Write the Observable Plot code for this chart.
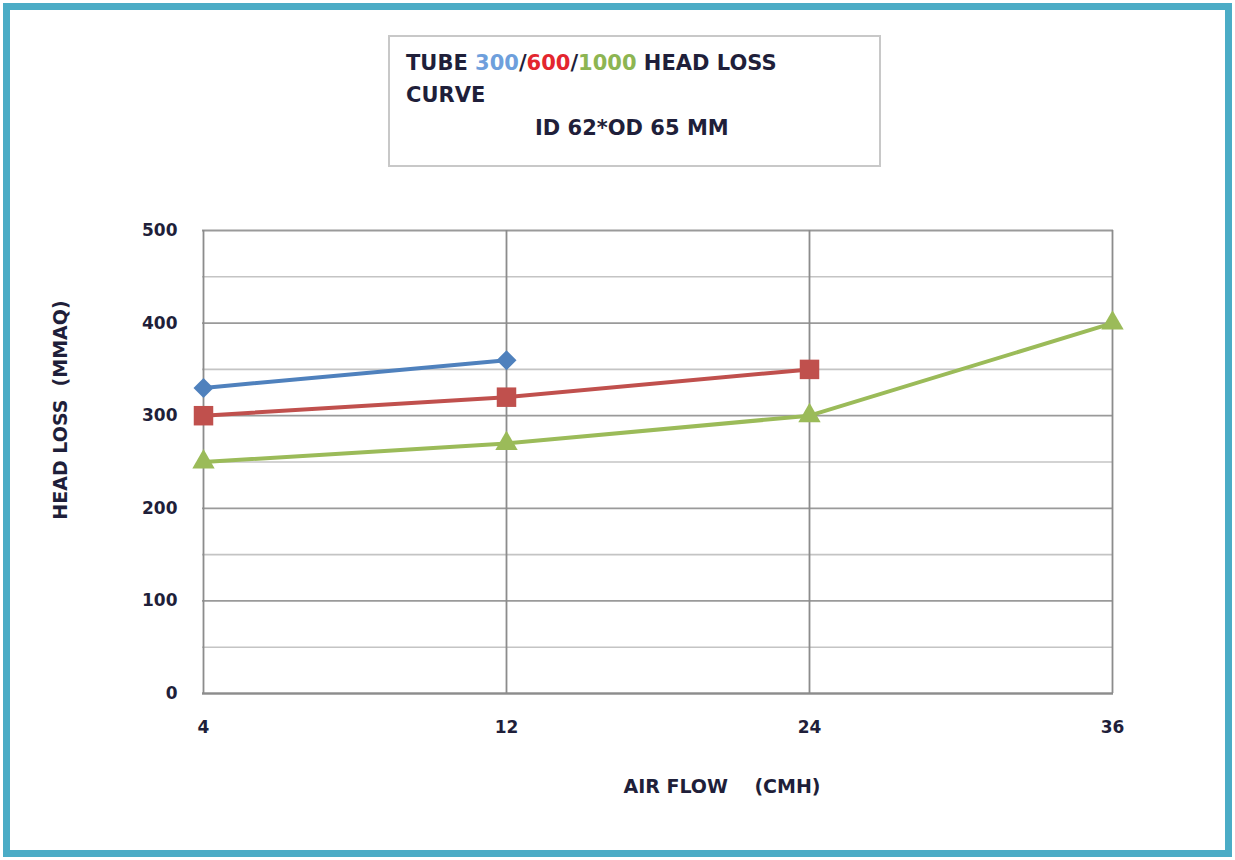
<!DOCTYPE html>
<html>
<head>
<meta charset="utf-8">
<script src="https://cdn.jsdelivr.net/npm/d3@7"></script>
<script src="https://cdn.jsdelivr.net/npm/@observablehq/plot@0.6"></script>
<style>
  html, body { margin: 0; padding: 0; background: #fff; }
  #frame {
    position: relative; width: 1235px; height: 860px; box-sizing: border-box;
    overflow: hidden;
    font-family: "DejaVu Sans", sans-serif; color: #1f1f3a;
  }
  #border {
    position: absolute; left: 3px; top: 3px; width: 1229px; height: 854px;
    box-sizing: border-box; border: 7px solid #4bacc6;
  }
  #titlebox {
    position: absolute; left: 388px; top: 35px; width: 493px; height: 132px;
    box-sizing: border-box; border: 2px solid #c8c8c8; background: #fff;
    font-weight: 700; font-size: 21px; line-height: 25px;
  }
  #titlebox .l1 { position: absolute; left: 16px; top: 14px; white-space: nowrap; }
  #titlebox .l2 { position: absolute; left: 16px; top: 46px; }
  #titlebox .l3 { position: absolute; left: 145px; top: 79px; white-space: nowrap; }
  .axislabel { position: absolute; font-weight: 700; font-size: 19px; white-space: pre; line-height: 22px; }
  #xlabel { left: 522px; width: 400px; top: 775px; text-align: center; }
  #ylabel { left: -140px; width: 400px; top: 399px; text-align: center; transform: rotate(-90deg); }
  #chart { position: absolute; left: 0; top: 0; }
</style>
</head>
<body>
<div id="frame">
  <div id="chart"></div>
  <div id="border"></div>
  <div id="titlebox">
    <div class="l1">TUBE <span style="color:#6e9fdc">300</span>/<span style="color:#e3262e">600</span>/<span style="color:#8db552">1000</span> HEAD LOSS</div>
    <div class="l2">CURVE</div>
    <div class="l3">ID 62*OD 65 MM</div>
  </div>
  <div class="axislabel" id="xlabel">AIR FLOW    (CMH)</div>
  <div class="axislabel" id="ylabel">HEAD LOSS  (MMAQ)</div>
</div>
<script>
const airFlow = ["4", "12", "24", "36"];
const tube300 = [330, 360];
const tube600 = [300, 320, 350];
const tube1000 = [250, 270, 300, 400];
const yTicks = [0, 100, 200, 300, 400, 500];
const yGrid = [50, 150, 250, 350, 450];

const series = [
  {name: "300", values: tube300, color: "#4f81bd", symbol: "diamond2", r: 9},
  {name: "600", values: tube600, color: "#c0504d", symbol: "square", r: 11},
  {name: "1000", values: tube1000, color: "#9bbb59", symbol: "triangle", r: 8.3}
];
const rows = series.flatMap(s => s.values.map((v, i) => ({series: s.name, flow: airFlow[i], head: v})));

const marks = [
  Plot.ruleY(yGrid, {stroke: "#c4c4c4", strokeWidth: 1.6}),
  Plot.ruleY(yTicks, {stroke: "#9a9a9a", strokeWidth: 1.8}),
  Plot.ruleX(airFlow, {x: d => d, stroke: "#8c8c8c", strokeWidth: 1.8}),
  Plot.ruleY([0], {stroke: "#8c8c8c", strokeWidth: 2}),
];
for (const s of series) {
  const data = rows.filter(d => d.series === s.name);
  marks.push(Plot.line(data, {x: "flow", y: "head", stroke: s.color, strokeWidth: 4}));
  marks.push(Plot.dot(data, {x: "flow", y: "head", fill: s.color, symbol: s.symbol, r: s.r, stroke: "none"}));
}
marks.push(Plot.axisY({ticks: yTicks, tickSize: 0, tickPadding: 25, fontSize: 17, fontWeight: 700, fill: "#1f1f3a", label: null}));
marks.push(Plot.axisX({tickSize: 0, tickPadding: 27, fontSize: 17, fontWeight: 700, fill: "#1f1f3a", label: null}));

const chart = Plot.plot({
  width: 1235,
  height: 860,
  marginLeft: 202,
  marginRight: 122,
  marginTop: 230,
  marginBottom: 167,
  style: {fontFamily: "'DejaVu Sans', sans-serif", background: "transparent", overflow: "visible"},
  x: {type: "point", domain: airFlow, padding: 0},
  y: {domain: [0, 500]},
  marks
});
document.getElementById("chart").appendChild(chart);
</script>
</body>
</html>
